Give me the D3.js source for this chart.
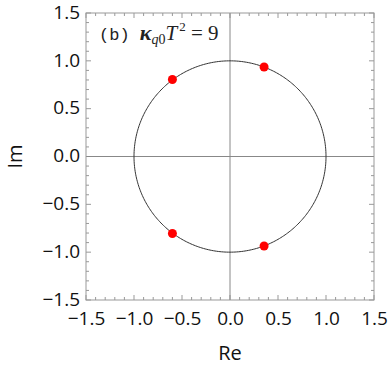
<!DOCTYPE html>
<html>
<head>
<meta charset="utf-8">
<script src="https://cdn.jsdelivr.net/npm/d3@7"></script>
<style>
  body { margin: 0; background: #fff; }
  .tick text { font-family: "Open Sans", sans-serif; font-size: 19px; fill: #111; }
</style>
</head>
<body>
<div id="chart"></div>
<script>
// Eigenvalues on the unit circle (Re, Im)
const poleRe = [-0.60, 0.355, -0.60, 0.355];
const poleIm = [0.805, 0.935, -0.805, -0.935];
const tickValues = [-1.5, -1.0, -0.5, 0.0, 0.5, 1.0, 1.5];
const domain = [-1.5, 1.5];

const width = 388, height = 368;
const margin = { top: 13, right: 14, bottom: 68, left: 86 };

const svg = d3.select('#chart').append('svg')
    .attr('width', width)
    .attr('height', height);

const x = d3.scaleLinear().domain(domain).range([margin.left, width - margin.right]);
const y = d3.scaleLinear().domain(domain).range([height - margin.bottom, margin.top]);

const minor = d3.range(-15, 16).map(d => d / 10);
const isMajor = v => Math.abs(v * 2 - Math.round(v * 2)) < 1e-6;

// frame ticks (inward, all four sides)
const tickG = svg.append('g').attr('stroke', '#999').attr('stroke-width', 1);
minor.forEach(v => {
    const len = isMajor(v) ? 5 : 3;
    const px = x(v), py = y(v);
    tickG.append('line').attr('x1', px).attr('x2', px).attr('y1', y(-1.5)).attr('y2', y(-1.5) - len);
    tickG.append('line').attr('x1', px).attr('x2', px).attr('y1', y(1.5)).attr('y2', y(1.5) + len);
    tickG.append('line').attr('y1', py).attr('y2', py).attr('x1', x(-1.5)).attr('x2', x(-1.5) + len);
    tickG.append('line').attr('y1', py).attr('y2', py).attr('x1', x(1.5)).attr('x2', x(1.5) - len);
});

// zero lines
svg.append('line')
    .attr('x1', x(-1.5)).attr('x2', x(1.5)).attr('y1', y(0)).attr('y2', y(0))
    .attr('stroke', '#888').attr('stroke-width', 1);
svg.append('line')
    .attr('x1', x(0)).attr('x2', x(0)).attr('y1', y(-1.5)).attr('y2', y(1.5))
    .attr('stroke', '#888').attr('stroke-width', 1);

// unit circle
const circ = d3.range(0, 361).map(a => [Math.cos(a * Math.PI / 180), Math.sin(a * Math.PI / 180)]);
svg.append('path')
    .datum(circ)
    .attr('d', d3.line().x(d => x(d[0])).y(d => y(d[1])))
    .attr('fill', 'none')
    .attr('stroke', '#333')
    .attr('stroke-width', 1);

// frame
svg.append('rect')
    .attr('x', x(-1.5)).attr('y', y(1.5))
    .attr('width', x(1.5) - x(-1.5)).attr('height', y(-1.5) - y(1.5))
    .attr('fill', 'none').attr('stroke', '#999').attr('stroke-width', 1);

// axes labels only
svg.append('g')
    .attr('transform', `translate(0,${y(-1.5)})`)
    .call(d3.axisBottom(x).tickValues(tickValues).tickFormat(d3.format('.1f')).tickSize(0).tickPadding(12))
    .call(g => g.select('.domain').remove());

svg.append('g')
    .attr('transform', `translate(${x(-1.5)},0)`)
    .call(d3.axisLeft(y).tickValues(tickValues).tickFormat(d3.format('.1f')).tickSize(0).tickPadding(6))
    .call(g => g.selectAll('.tick text').attr('dy', '0.28em'))
    .call(g => g.select('.domain').remove());

// points
svg.append('g').selectAll('circle')
    .data(poleRe)
    .enter()
    .append('circle')
    .attr('cx', d => x(d))
    .attr('cy', (d, i) => y(poleIm[i]))
    .attr('r', 4.5)
    .attr('fill', '#f00');

// axis titles
svg.append('text')
    .attr('x', x(0)).attr('y', 360)
    .attr('text-anchor', 'middle')
    .style('font-family', '"Open Sans", sans-serif')
    .style('font-size', '20px')
    .attr('fill', '#111')
    .text('Re');

svg.append('text')
    .attr('transform', `translate(22,${y(0)}) rotate(-90)`)
    .attr('text-anchor', 'middle')
    .style('font-family', '"Open Sans", sans-serif')
    .style('font-size', '20px')
    .attr('fill', '#111')
    .text('Im');

// panel label
const lbl = svg.append('text')
    .attr('x', 99).attr('y', 40)
    .style('font-family', '"Liberation Serif", serif')
    .style('font-size', '19px')
    .attr('fill', '#222');
lbl.append('tspan').style('font-family', '"Liberation Mono", monospace').style('font-size', '17px').text('(b) ');
lbl.append('tspan').style('font-style', 'italic').style('font-weight', 'bold').style('font-size', '22px').text('κ');
lbl.append('tspan').style('font-style', 'italic').style('font-size', '14px').attr('dy', 4).text('q');
lbl.append('tspan').style('font-size', '14px').text('0');
lbl.append('tspan').style('font-style', 'italic').style('font-size', '21px').attr('dy', -4).text('T');
lbl.append('tspan').style('font-size', '13px').attr('dx', 2).attr('dy', -9).text('2');
lbl.append('tspan').style('font-size', '21px').attr('dy', 9).text(' = 9');
</script>
</body>
</html>
